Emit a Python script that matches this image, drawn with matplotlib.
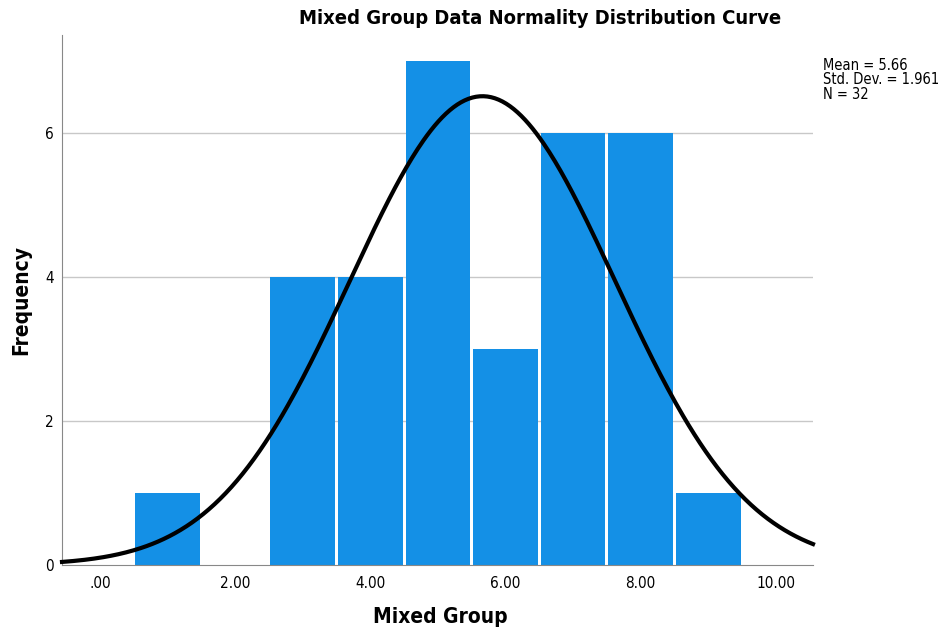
import numpy as np
import matplotlib
matplotlib.use("Agg")
import matplotlib.pyplot as plt

bin_centers = [1, 3, 4, 5, 6, 7, 8, 9]
frequencies = [1, 4, 4, 7, 3, 6, 6, 1]
mean_val = 5.66
std_val = 1.961
n_val = 32
x_ticks = [0, 2, 4, 6, 8, 10]
x_tick_labels = [".00", "2.00", "4.00", "6.00", "8.00", "10.00"]
y_ticks = [0, 2, 4, 6]

plt.rcParams['font.family'] = ['DejaVu Sans']
plt.rcParams['font.stretch'] = 'condensed'

fig = plt.figure(figsize=(9.42, 6.3), dpi=100)
ax = fig.add_axes([62/942, 1-565/630, (813-62)/942, (565-35)/630])

ax.set_xlim(-0.56, 10.55)
ax.set_ylim(0, 7.36)

for y in [2, 4, 6]:
    ax.axhline(y, color='#c8c8c8', lw=1, zorder=0)

ax.bar(bin_centers, frequencies, width=0.955, color='#1490E6', linewidth=0, zorder=2)

xs = np.linspace(-0.56, 10.55, 400)
ys = n_val * 1.0 * np.exp(-0.5 * ((xs - mean_val) / std_val) ** 2) / (std_val * np.sqrt(2 * np.pi))
ax.plot(xs, ys, color='black', lw=3, zorder=3, clip_on=False)

ax.set_xticks(x_ticks)
ax.set_xticklabels(x_tick_labels, fontsize=11)
ax.set_yticks(y_ticks)
ax.set_yticklabels([str(v) for v in y_ticks], fontsize=11)
ax.tick_params(length=0, pad=8)
ax.tick_params(axis='y', pad=6)

for s in ['top', 'right']:
    ax.spines[s].set_visible(False)
ax.spines['left'].set_color('#888888')
ax.spines['bottom'].set_color('#888888')

fig.text(540/942, 1-18/630, "Mixed Group Data Normality Distribution Curve", ha='center', va='center',
         fontsize=14.5, fontweight='bold')
fig.text(440/942, 1-617/630, "Mixed Group", ha='center', va='center', fontsize=15, fontweight='bold')
fig.text(21/942, 1-300/630, "Frequency", ha='center', va='center', fontsize=15, fontweight='bold', rotation=90)
fig.text(823/942, 1-58/630, "Mean = 5.66\nStd. Dev. = 1.961\nN = 32", ha='left', va='top',
         fontsize=10.5, linespacing=0.95)

fig.savefig("out.png", dpi=100)
